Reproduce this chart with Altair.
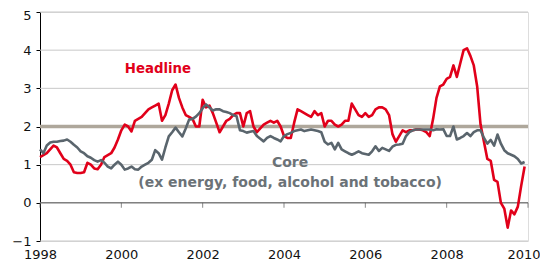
import altair as alt
import pandas as pd

# Monthly y/y rates, Jan 1998 .. Dec 2009
headline = [
    1.2, 1.25, 1.3, 1.4, 1.5, 1.45, 1.3, 1.15, 1.1, 1.0, 0.8, 0.78,       # 1998
    0.78, 0.8, 1.05, 1.0, 0.9, 0.88, 1.0, 1.2, 1.25, 1.3, 1.45, 1.66,     # 1999
    1.9, 2.05, 2.0, 1.87, 2.15, 2.2, 2.25, 2.35, 2.45, 2.5, 2.55, 2.6,    # 2000
    2.15, 2.3, 2.6, 2.95, 3.1, 2.75, 2.5, 2.3, 2.25, 2.2, 2.0, 2.0,       # 2001
    2.7, 2.5, 2.55, 2.35, 2.1, 1.85, 2.0, 2.15, 2.2, 2.3, 2.35, 2.35,     # 2002
    2.0, 2.35, 2.4, 2.0, 1.85, 1.95, 2.05, 2.1, 2.15, 2.1, 2.15, 2.0,     # 2003
    1.75, 1.7, 1.7, 2.1, 2.45, 2.4, 2.35, 2.3, 2.25, 2.4, 2.3, 2.35,      # 2004
    2.0, 2.15, 2.15, 2.05, 2.0, 2.05, 2.15, 2.15, 2.6, 2.45, 2.3, 2.25,   # 2005
    2.35, 2.25, 2.3, 2.45, 2.5, 2.5, 2.45, 2.3, 1.8, 1.6, 1.75, 1.9,      # 2006
    1.85, 1.9, 1.9, 1.92, 1.92, 1.9, 1.85, 1.75, 2.2, 2.75, 3.05, 3.1,    # 2007
    3.25, 3.3, 3.6, 3.3, 3.65, 4.0, 4.05, 3.85, 3.6, 3.05, 2.05, 1.6,     # 2008
    1.15, 1.1, 0.6, 0.55, 0.0, -0.15, -0.65, -0.2, -0.3, -0.1, 0.45, 0.95,  # 2009
]
core = [
    1.4, 1.3, 1.5, 1.58, 1.6, 1.6, 1.62, 1.63, 1.66, 1.6, 1.52, 1.45,     # 1998
    1.35, 1.3, 1.22, 1.18, 1.12, 1.08, 1.12, 1.05, 0.95, 0.9, 1.0, 1.08,  # 1999
    1.0, 0.87, 0.9, 0.95, 0.88, 0.87, 0.95, 1.0, 1.05, 1.13, 1.38, 1.3,   # 2000
    1.13, 1.45, 1.74, 1.85, 1.97, 1.85, 1.74, 1.95, 2.18, 2.2, 2.26, 2.35,  # 2001
    2.48, 2.58, 2.5, 2.42, 2.45, 2.45, 2.4, 2.38, 2.35, 2.3, 2.27, 1.9,   # 2002
    1.88, 1.84, 1.86, 1.88, 1.75, 1.68, 1.61, 1.7, 1.75, 1.7, 1.66, 1.61,  # 2003
    1.75, 1.8, 1.83, 1.88, 1.9, 1.92, 1.88, 1.9, 1.92, 1.9, 1.88, 1.85,   # 2004
    1.6, 1.53, 1.57, 1.4, 1.57, 1.4, 1.35, 1.3, 1.26, 1.3, 1.35, 1.3,     # 2005
    1.28, 1.26, 1.35, 1.48, 1.36, 1.44, 1.4, 1.36, 1.47, 1.52, 1.53, 1.55,  # 2006
    1.75, 1.85, 1.9, 1.92, 1.92, 1.92, 1.92, 1.92, 1.9, 1.93, 1.92, 1.93,  # 2007
    1.75, 1.75, 2.0, 1.66, 1.7, 1.75, 1.83, 1.75, 1.85, 1.9, 1.9, 1.7,    # 2008
    1.55, 1.65, 1.5, 1.79, 1.55, 1.38, 1.3, 1.26, 1.22, 1.15, 1.03, 1.07,  # 2009
]
start_year = 1998
year_ticks = [1998, 2000, 2002, 2004, 2006, 2008, 2010]
y_ticks = [-1, 0, 1, 2, 3, 4, 5]
target = 2

labels = pd.DataFrame({
    "x": [2000.9, 2004.15, 2004.15],
    "y": [3.5, 1.05, 0.52],
    "text": ["Headline", "Core", "(ex energy, food, alcohol and tobacco)"],
    "series": ["Headline", "Core", "Core"],
})

n = len(headline)
df = pd.DataFrame({
    "t": [start_year + i / 12 for i in range(n)] * 2,
    "v": headline + core,
    "series": ["Headline"] * n + ["Core"] * n,
})

RED = "#e1001a"
GREY = "#5a656d"
FONT = "DejaVu Sans"

xscale = alt.Scale(domain=[1998, 2010], nice=False, zero=False)
yscale = alt.Scale(domain=[-1, 5], nice=False)

yaxis = alt.Axis(values=y_ticks, grid=False, domain=True, domainColor="#000000",
                 domainWidth=1, ticks=True, tickColor="#000000", tickSize=4,
                 labelFont=FONT, labelFontSize=13, labelColor="#111111",
                 labelPadding=5, title=None, format="d",
                 labelOverlap=False, labelFlush=False,
                 labelOffset={"condition": {"test": "datum.value === 5", "value": 3}, "value": 0})
xaxis = alt.Axis(values=year_ticks, format="d", grid=False, domain=False, ticks=False,
                 labelFont=FONT, labelFontSize=13, labelColor="#111111",
                 labelPadding=7, title=None, labelOverlap=False, labelFlush=False,
                 labelAlign={"condition": {"test": "datum.value === 2010", "value": "right"},
                             "value": "center"},
                 labelOffset={"condition": {"test": "datum.value === 2010", "value": 12},
                              "value": 0})

grid = alt.Chart(pd.DataFrame({"y": y_ticks})).mark_rule(
    color="#c8c8c8", strokeWidth=1
).encode(y=alt.Y("y:Q", scale=yscale, axis=yaxis))

target_rule = alt.Chart(pd.DataFrame({"y": [target]})).mark_rule(
    color="#aea79b", strokeWidth=3.5
).encode(y=alt.Y("y:Q", scale=yscale, axis=yaxis))

zero_rule = alt.Chart(pd.DataFrame({"y": [0]})).mark_rule(
    color="#555555", strokeWidth=1
).encode(y=alt.Y("y:Q", scale=yscale, axis=yaxis))

ticks = alt.Chart(pd.DataFrame({"x": year_ticks, "y": [0] * len(year_ticks)})).mark_tick(
    orient="vertical", color="#555555", size=5, thickness=1, yOffset=2.5
).encode(x=alt.X("x:Q", scale=xscale, axis=xaxis), y=alt.Y("y:Q", scale=yscale, axis=yaxis))

lines = alt.Chart(df).mark_line(strokeWidth=2.6, strokeJoin="round").encode(
    x=alt.X("t:Q", scale=xscale, axis=xaxis),
    y=alt.Y("v:Q", scale=yscale, axis=yaxis),
    color=alt.Color("series:N", scale=alt.Scale(domain=["Headline", "Core"], range=[RED, GREY]),
                    legend=None),
    detail="series:N",
)

text_head = alt.Chart(labels[labels.series == "Headline"]).mark_text(
    font=FONT, fontSize=13.3, fontWeight="bold", color=RED, align="center", baseline="middle"
).encode(x=alt.X("x:Q", scale=xscale, axis=xaxis), y=alt.Y("y:Q", scale=yscale, axis=yaxis),
         text="text:N")

text_core = alt.Chart(labels[labels.series == "Core"]).mark_text(
    font=FONT, fontSize=14, fontWeight="bold", color="#6b7277", align="center", baseline="middle"
).encode(x=alt.X("x:Q", scale=xscale, axis=xaxis), y=alt.Y("y:Q", scale=yscale, axis=yaxis),
         text="text:N")

chart = alt.layer(grid, target_rule, zero_rule, ticks, lines, text_head, text_core).properties(
    width=488, height=229,
    autosize=alt.AutoSizeParams(type="none"),
    padding={"left": 32, "top": 4, "right": 12, "bottom": 19},
).configure_view(stroke=None).configure(background="#ffffff")

chart.save("out.html", embed_options={"renderer": "svg", "actions": False})
